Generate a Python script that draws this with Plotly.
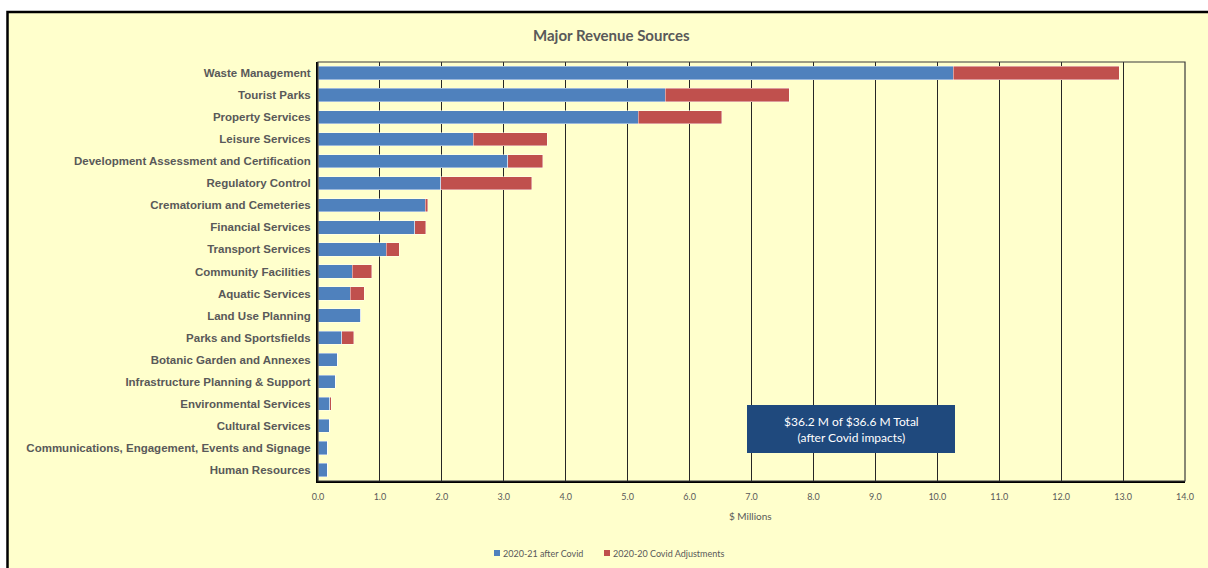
import plotly.graph_objects as go

# Service areas, top to bottom
services = [
    "Waste Management",
    "Tourist Parks",
    "Property Services",
    "Leisure Services",
    "Development Assessment and Certification",
    "Regulatory Control",
    "Crematorium and Cemeteries",
    "Financial Services",
    "Transport Services",
    "Community Facilities",
    "Aquatic Services",
    "Land Use Planning",
    "Parks and Sportsfields",
    "Botanic Garden and Annexes",
    "Infrastructure Planning & Support",
    "Environmental Services",
    "Cultural Services",
    "Communications, Engagement, Events and Signage",
    "Human Resources",
]

# Revenue in $ millions
after_covid = [10.26, 5.61, 5.17, 2.51, 3.06, 1.98, 1.73, 1.56, 1.10, 0.55,
               0.52, 0.69, 0.38, 0.31, 0.28, 0.19, 0.18, 0.15, 0.15]
covid_adjustments = [2.68, 2.00, 1.35, 1.19, 0.57, 1.47, 0.04, 0.18, 0.21, 0.32,
                     0.23, 0.00, 0.20, 0.00, 0.00, 0.02, 0.00, 0.00, 0.00]

series_names = ["2020-21 after Covid", "2020-20 Covid Adjustments"]
series_colors = ["#4F81BD", "#C0504D"]

x_ticks = [i * 1.0 for i in range(15)]
x_tick_labels = [f"{v:.1f}" for v in x_ticks]

BG = "#FFFFCC"
TEXT = "#595959"
NARROW = "Lato, sans-serif"

fig = go.Figure()
for name, vals, col in zip(series_names, [after_covid, covid_adjustments], series_colors):
    fig.add_trace(go.Bar(
        y=services, x=vals, name=name, orientation="h",
        marker=dict(color=col, line=dict(color="rgba(255,255,255,0.55)", width=0.8)),
        showlegend=False,
    ))

W, H = 1208, 568
L, R, T, B = 318, 1185, 62, 481
pw, ph = R - L, B - T


def px_x(p):
    return (p - L) / pw


def px_y(p):
    return (B - p) / ph


shapes = [
    # outer chart frame
    dict(type="rect", xref="paper", yref="paper", layer="below",
         x0=px_x(7.5), x1=px_x(1240), y0=px_y(610), y1=px_y(12),
         fillcolor=BG, line=dict(color="black", width=2.5)),
    # plot area border
    dict(type="rect", xref="paper", yref="paper", layer="above",
         x0=0, x1=1, y0=0, y1=1, line=dict(color="#3a3a3a", width=1.2)),
    # summary box
    dict(type="rect", xref="paper", yref="paper", layer="above",
         x0=px_x(747), x1=px_x(955), y0=px_y(453), y1=px_y(405),
         fillcolor="#1F497D", line=dict(width=0)),
]

annotations = [
    dict(xref="paper", yref="paper", x=px_x(611), y=px_y(35),
         text="<b>Major Revenue Sources</b>", showarrow=False,
         xanchor="center", yanchor="middle",
         font=dict(family="Lato, sans-serif", size=15, color=TEXT)),
    dict(xref="paper", yref="paper", x=px_x(851), y=px_y(429),
         text="$36.2 M of $36.6 M Total<br>(after Covid impacts)", showarrow=False,
         xanchor="center", yanchor="middle",
         font=dict(family=NARROW, size=12, color="white")),
    dict(xref="paper", yref="paper", x=px_x(750), y=px_y(516),
         text="$ Millions", showarrow=False, xanchor="center", yanchor="middle",
         font=dict(family=NARROW, size=10, color=TEXT)),
]

# legend entries: colour swatch + label
legend_pos = [494, 604]
for name, col, xp in zip(series_names, series_colors, legend_pos):
    shapes.append(dict(
        type="rect", xref="paper", yref="paper", layer="above",
        x0=px_x(xp), x1=px_x(xp + 6), y0=px_y(556), y1=px_y(550),
        fillcolor=col, line=dict(width=0)))
    annotations.append(dict(
        xref="paper", yref="paper", x=px_x(xp + 7), y=px_y(553),
        text=name, showarrow=False,
        xanchor="left", yanchor="middle",
        font=dict(family=NARROW, size=9, color=TEXT)))

fig.update_layout(
    width=W, height=H,
    margin=dict(l=L, r=W - R, t=T, b=H - B, pad=0),
    paper_bgcolor="white", plot_bgcolor=BG,
    barmode="stack", bargap=0.4,
    showlegend=False,
    shapes=shapes, annotations=annotations,
    xaxis=dict(range=[0, 14], tickvals=x_ticks, ticktext=x_tick_labels,
               showgrid=True, gridcolor="#262626", gridwidth=1.2,
               showline=True, linecolor="black", linewidth=2.2,
               zeroline=False, ticks="", ticklabelstandoff=6,
               tickfont=dict(family=NARROW, size=9, color=TEXT), fixedrange=True),
    yaxis=dict(categoryorder="array", categoryarray=services, autorange="reversed",
               showgrid=False, showline=True, linecolor="black", linewidth=2,
               ticks="", ticklabelstandoff=3,
               tickfont=dict(family="Liberation Sans, Arial, sans-serif", size=11.5,
                             color=TEXT, weight="bold")),
)

fig.write_html("out.html")
